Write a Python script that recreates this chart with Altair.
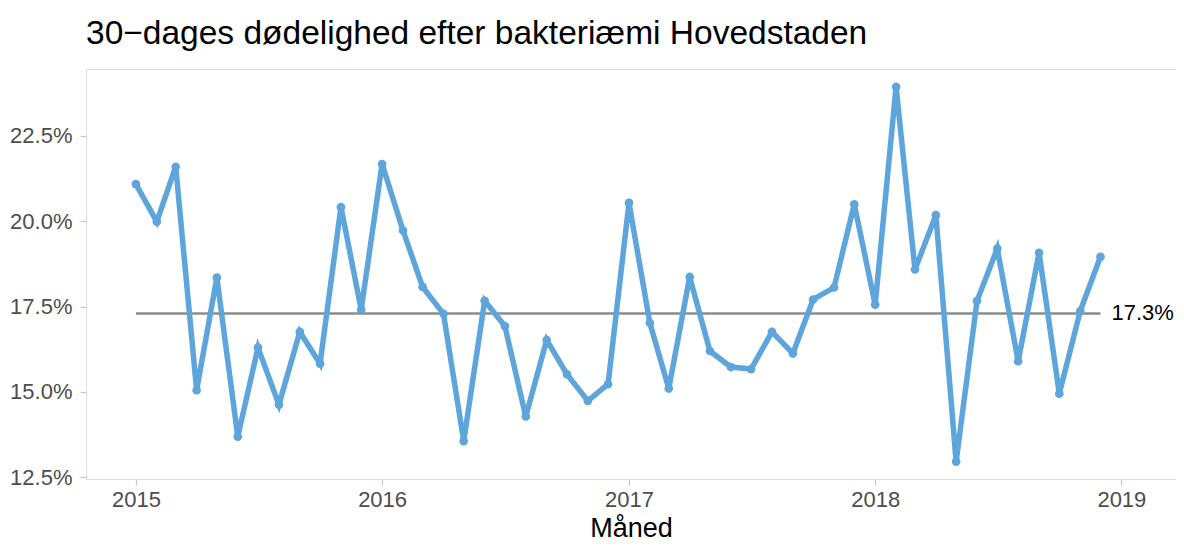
import altair as alt
import pandas as pd

# Monthly 30-day mortality (%) Jan 2015 - Dec 2018
months = pd.date_range("2015-01-01", "2018-12-01", freq="MS").strftime("%Y-%m-%d").tolist()
values = [
    21.09, 19.99, 21.60, 15.05, 18.35, 13.69, 16.30, 14.63, 16.76, 15.83, 20.42, 17.41,
    21.68, 19.73, 18.08, 17.29, 13.56, 17.67, 16.93, 14.28, 16.52, 15.52, 14.74, 15.23,
    20.54, 17.02, 15.10, 18.37, 16.20, 15.73, 15.67, 16.76, 16.13, 17.71, 18.06, 20.50,
    17.56, 23.94, 18.59, 20.18, 12.96, 17.67, 19.20, 15.90, 19.08, 14.95, 17.37, 18.96,
]
center_value = 17.3
center_label = "17.3%"
y_ticks = [12.5, 15.0, 17.5, 20.0, 22.5]
x_tick_years = [2015, 2016, 2017, 2018, 2019]

df = pd.DataFrame({"date": months, "value": values, "center": center_value, "label": center_label})

FONT = "Liberation Sans"
LINE_COLOR = "#5DA5DA"

x_scale = alt.Scale(
    type="utc",
    domain=[alt.DateTime(year=2014, month=10, date=19, utc=True),
            alt.DateTime(year=2019, month=3, date=23, utc=True)],
)
y_scale = alt.Scale(domain=[12.45, 24.463], nice=False, zero=False)

x_axis = alt.Axis(
    title="Måned",
    values=[alt.DateTime(year=y, month=1, date=1, utc=True) for y in x_tick_years],
    labelExpr="utcFormat(datum.value, '%Y')",
    grid=False, domain=False, tickColor="#C8C8C8", tickSize=6, tickWidth=1.2,
    labelColor="#4D4D4D", labelFontSize=22, labelFont=FONT, labelPadding=4,
    titleFont=FONT, titleFontSize=27, titleFontWeight="normal", titleColor="#000000",
    titlePadding=5,
)
y_axis = alt.Axis(
    title=None, values=y_ticks,
    labelExpr="format(datum.value, '.1f') + '%'",
    grid=False, domain=False, tickColor="#C8C8C8", tickSize=6, tickWidth=1.2,
    labelColor="#4D4D4D", labelFontSize=22, labelFont=FONT, labelPadding=8,
)

base = alt.Chart(df)

line = base.mark_line(color=LINE_COLOR, strokeWidth=5.5).encode(
    x=alt.X("date:T", scale=x_scale, axis=x_axis),
    y=alt.Y("value:Q", scale=y_scale, axis=y_axis),
)
points = base.mark_point(color=LINE_COLOR, filled=True, opacity=1, size=75).encode(
    x="date:T", y="value:Q",
)
center = base.mark_rule(color="#8C8C8C", strokeWidth=2.5).encode(
    x="min(date):T", x2="max(date):T", y="mean(center):Q",
)
label = base.mark_text(align="left", baseline="middle", dx=11, fontSize=22, font=FONT, color="#000000").encode(
    x="max(date):T", y="mean(center):Q", text="min(label):N",
)

chart = alt.layer(center, line, points, label).properties(
    width=1090, height=410,
    title=alt.TitleParams(
        "30\u2212dages dødelighed efter bakteriæmi Hovedstaden",
        anchor="start", frame="group", font=FONT, fontSize=33.5, fontWeight="normal",
        color="#000000", offset=18,
    ),
    autosize=alt.AutoSizeParams(type="none"),
    padding={"left": 78, "top": 61, "right": 0, "bottom": 64},
).configure_view(stroke="#E3E3E3", strokeWidth=1.2).configure(background="white")

chart.save("out.html", embed_options={"renderer": "svg", "actions": False})
